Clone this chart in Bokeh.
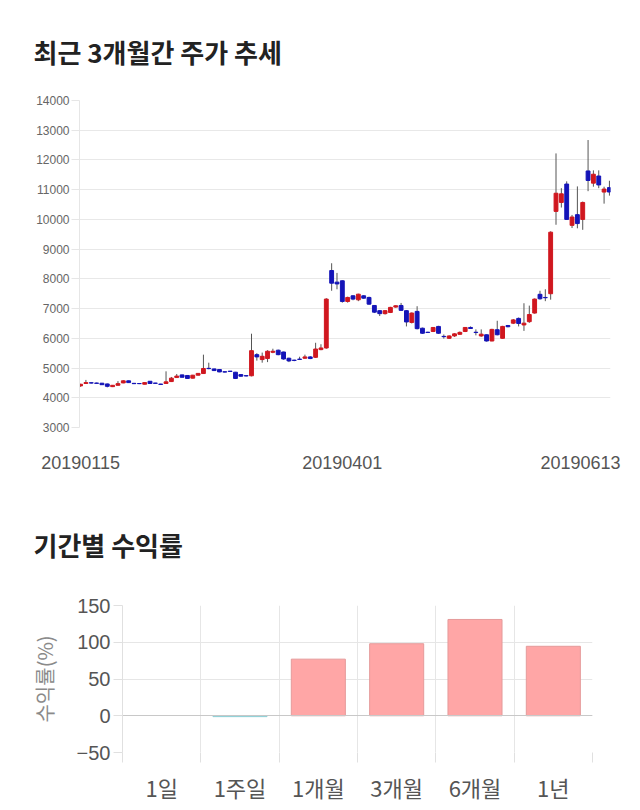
from bokeh.plotting import figure
from bokeh.layouts import column
from bokeh.models import ColumnDataSource, FixedTicker, Range1d
from bokeh.embed import file_html
from bokeh.resources import INLINE

# ---------------- data ----------------
tick_dates = ["20190115", "20190401", "20190613"]
tick_index = [0, 49, 99]

open_ = [4400, 4480, 4505, 4495, 4490, 4465, 4375, 4420, 4500, 4570,
         4485, 4480, 4455, 4555, 4495, 4460, 4480, 4545, 4680, 4770,
         4750, 4660, 4760, 4815, 4990, 4970, 4950, 4875, 4895, 4860,
         4780, 4745, 4740, 5450, 5285, 5320, 5530, 5600, 5540, 5330,
         5265, 5300, 5330, 5375, 5360, 5620, 5675, 8280, 7890, 7935,
         7240, 7430, 7295, 7430, 7375, 7105, 6930, 6830, 6870, 7050,
         7105, 6930, 6535, 6905, 6340, 6205, 6230, 6400, 6065, 6000,
         6080, 6135, 6230, 6365, 6205, 6080, 6120, 5910, 6290, 6000,
         6430, 6510, 6670, 6450, 6560, 6850, 7480, 7375, 7500, 10270,
         10570, 11190, 9800, 10160, 10000, 11630, 11220, 11460, 10920, 11070]
close_ = [4455, 4510, 4495, 4485, 4440, 4385, 4420, 4475, 4570, 4510,
          4475, 4475, 4510, 4480, 4485, 4450, 4535, 4660, 4730, 4690,
          4650, 4760, 4820, 4985, 4980, 4915, 4870, 4865, 4885, 4650,
          4725, 4735, 5585, 5375, 5395, 5565, 5565, 5450, 5305, 5240,
          5255, 5290, 5375, 5320, 5640, 5675, 7320, 7855, 7830, 7240,
          7375, 7320, 7485, 7350, 7150, 6880, 6830, 6930, 7040, 7095,
          6940, 6550, 6850, 6325, 6170, 6195, 6365, 6170, 6055, 6080,
          6150, 6200, 6365, 6330, 6195, 6140, 5910, 6300, 6120, 6400,
          6390, 6620, 6500, 6510, 6800, 7320, 7330, 7365, 9570, 10880,
          10860, 10000, 10080, 9860, 10570, 11310, 11520, 11160, 11020, 10920]
high_ = [4470, 4600, 4520, 4510, 4500, 4480, 4430, 4560, 4590, 4580,
         4500, 4490, 4520, 4560, 4500, 4470, 4890, 4700, 4800, 4780,
         4760, 4770, 4830, 5450, 5180, 4980, 4960, 4890, 4900, 4870,
         4790, 4760, 6155, 5500, 5520, 5600, 5650, 5620, 5550, 5350,
         5280, 5380, 5450, 5400, 5850, 5800, 7350, 8525, 8200, 7950,
         7400, 7450, 7500, 7450, 7400, 7120, 6950, 6950, 7060, 7110,
         7190, 6950, 6870, 7080, 6360, 6220, 6380, 6420, 6130, 6100,
         6170, 6230, 6380, 6400, 6300, 6300, 6130, 6320, 6590, 6420,
         6450, 6650, 6700, 7180, 7100, 7340, 7600, 7650, 9600, 12220,
         11050, 11280, 10150, 11110, 10600, 12670, 11650, 11650, 11100, 11300]
low_ = [4370, 4470, 4480, 4470, 4430, 4350, 4360, 4410, 4490, 4500,
        4460, 4460, 4450, 4470, 4470, 4440, 4470, 4530, 4670, 4680,
        4640, 4650, 4750, 4800, 4960, 4900, 4860, 4850, 4870, 4630,
        4710, 4720, 4720, 5250, 5180, 5200, 5500, 5430, 5280, 5200,
        5230, 5270, 5310, 5300, 5340, 5600, 5650, 7600, 7650, 7200,
        7200, 7280, 7250, 7330, 7130, 6850, 6750, 6800, 6850, 7030,
        6920, 6400, 6500, 6300, 6150, 6180, 6210, 6150, 5990, 5980,
        6050, 6120, 6210, 6320, 6100, 6050, 5890, 5900, 6100, 5990,
        6370, 6480, 6400, 6250, 6520, 6830, 7300, 7250, 7300, 9820,
        10400, 9980, 9710, 9700, 9650, 10950, 11100, 11050, 10530, 10800]

y_ticks = [3000, 4000, 5000, 6000, 7000, 8000, 9000, 10000, 11000, 12000, 13000, 14000]

periods = ["1일", "1주일", "1개월", "3개월", "6개월", "1년"]
returns = [0, -1.2, 77, 98, 131, 94.5]
ret_ticks = [-50, 0, 50, 100, 150]

# ---------------- candle chart ----------------
UP = "#d0171f"
DOWN = "#1414b8"
n = len(open_)
idx = list(range(n))
src = ColumnDataSource(dict(
    x=idx, o=open_, c=close_, h=high_, l=low_,
    color=[UP if c >= o else DOWN for o, c in zip(open_, close_)],
))

p1 = figure(width=640, height=475, output_backend="svg", toolbar_location=None,
            x_range=Range1d(-0.2, n - 0.8), y_range=Range1d(3000, 14000),
            min_border_left=79, min_border_right=30, min_border_top=100,
            min_border_bottom=47, frame_align=False)
p1.outline_line_color = None
p1.title.text = "최근 3개월간 주가 추세"
p1.title.align = "left"
p1.title.offset = -46
p1.title.standoff = 61
p1.title.text_font = "Noto Sans CJK KR"
p1.title.text_font_size = "26px"
p1.title.text_font_style = "bold"
p1.title.text_color = "#222222"

p1.segment("x", "h", "x", "l", source=src, line_color="#555555", line_width=1)
p1.vbar(x="x", top="o", bottom="c", width=0.72, source=src,
        fill_color="color", line_color="color", line_width=1)

p1.xgrid.visible = False
p1.ygrid.grid_line_color = "#e8e8e8"
p1.ygrid.ticker = FixedTicker(ticks=y_ticks)
p1.yaxis.ticker = FixedTicker(ticks=y_ticks)
p1.yaxis.axis_line_color = "#e6e6e6"
p1.yaxis.major_tick_line_color = "#e6e6e6"
p1.yaxis.major_tick_out = 8
p1.yaxis.major_tick_in = 0
p1.yaxis.minor_tick_line_color = None
p1.yaxis.major_label_standoff = 2
p1.yaxis.major_label_text_font = "Liberation Sans"
p1.yaxis.major_label_text_font_size = "12px"
p1.yaxis.major_label_text_color = "#666666"

# the last date label is pushed left (as in the original) so it stays inside the canvas
pad = "\u00a0" * 4
p1.xaxis.ticker = FixedTicker(ticks=tick_index)
p1.xaxis.major_label_overrides = {tick_index[0]: tick_dates[0], tick_index[1]: tick_dates[1],
                                  tick_index[2]: tick_dates[2] + pad}
p1.xaxis.axis_line_color = None
p1.xaxis.major_tick_line_color = None
p1.xaxis.minor_tick_line_color = None
p1.xaxis.major_label_standoff = 19
p1.xaxis.major_label_text_font = "Liberation Sans"
p1.xaxis.major_label_text_font_size = "18px"
p1.xaxis.major_label_text_color = "#555555"

# ---------------- return bar chart ----------------
centers = [i + 0.5 for i in range(len(periods))]
bounds = list(range(len(periods) + 1))
bsrc = ColumnDataSource(dict(
    x=centers, top=returns,
    fill=["#ffa6a6" if v > 0 else "#9fd8dc" for v in returns],
    line=["#e59a9a" if v > 0 else ("#8fd0d6" if v < 0 else None) for v in returns],
))

p2 = figure(width=640, height=335, output_backend="svg", toolbar_location=None,
            x_range=Range1d(0, len(periods)), y_range=Range1d(-50, 150),
            min_border_left=122, min_border_right=48, min_border_top=130,
            min_border_bottom=58, frame_align=False)
p2.outline_line_color = None
p2.title.text = "기간별 수익률"
p2.title.align = "left"
p2.title.offset = -89
p2.title.standoff = 86
p2.title.text_font = "Noto Sans CJK KR"
p2.title.text_font_size = "26px"
p2.title.text_font_style = "bold"
p2.title.text_color = "#222222"

p2.vbar(x="x", top="top", bottom=0, width=0.69, source=bsrc,
        fill_color="fill", line_color="line", line_width=1)

p2.ygrid.ticker = FixedTicker(ticks=ret_ticks)
p2.ygrid.grid_line_color = "#e6e6e6"
p2.xgrid.ticker = FixedTicker(ticks=bounds)
p2.xgrid.grid_line_color = "#e6e6e6"
p2.hspan(y=[0], line_color="#c8c8c8", line_width=1)

p2.yaxis.ticker = FixedTicker(ticks=ret_ticks)
p2.yaxis.axis_line_color = "#e0e0e0"
p2.yaxis.major_tick_line_color = "#e0e0e0"
p2.yaxis.major_tick_out = 9
p2.yaxis.major_tick_in = 0
p2.yaxis.minor_tick_line_color = None
p2.yaxis.major_label_standoff = 3
p2.yaxis.major_label_text_font = "Liberation Sans"
p2.yaxis.major_label_text_font_size = "20px"
p2.yaxis.major_label_text_color = "#555555"
p2.yaxis.axis_label = "수익률(%)"
p2.yaxis.axis_label_text_font = "Noto Sans CJK KR"
p2.yaxis.axis_label_text_font_size = "20px"
p2.yaxis.axis_label_text_font_style = "normal"
p2.yaxis.axis_label_text_color = "#8a8a8a"
p2.yaxis.axis_label_standoff = 15

p2.xaxis.ticker = FixedTicker(ticks=centers, minor_ticks=bounds)
p2.xaxis.major_label_overrides = {c: lab for c, lab in zip(centers, periods)}
p2.xaxis.axis_line_color = None
p2.xaxis.major_tick_line_color = None
p2.xaxis.minor_tick_line_color = "#e0e0e0"
p2.xaxis.minor_tick_out = 10
p2.xaxis.minor_tick_in = 0
p2.xaxis.major_label_standoff = 8
p2.xaxis.major_label_text_font = "Noto Sans CJK KR"
p2.xaxis.major_label_text_font_size = "22px"
p2.xaxis.major_label_text_color = "#555555"

layout = column(p1, p2, spacing=0)
open("out.html", "w").write(file_html(layout, INLINE))
